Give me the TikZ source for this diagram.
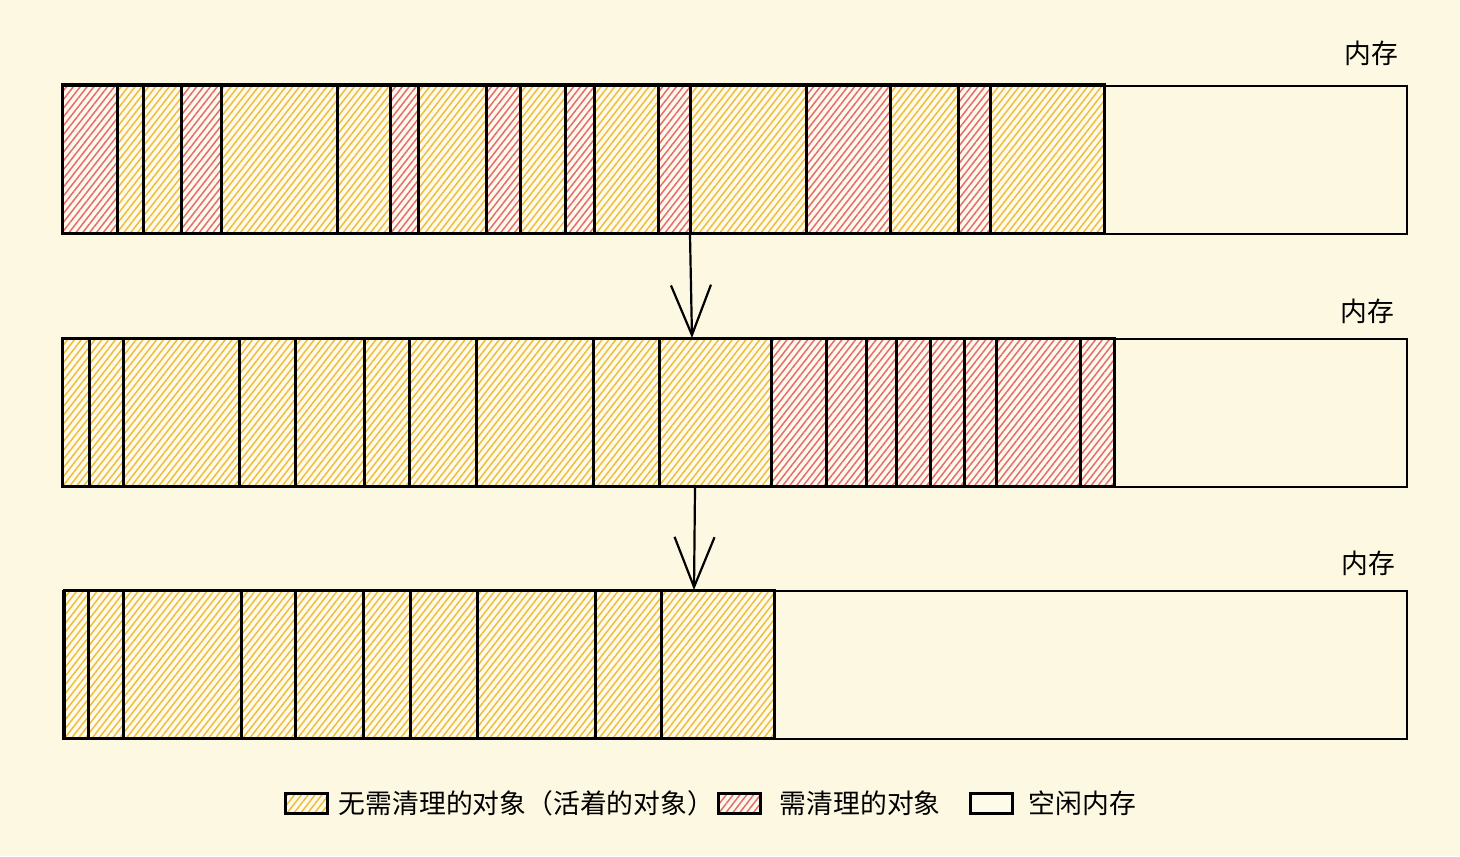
\documentclass[tikz,border=0pt]{standalone}
\usepackage{fontspec}
\setmainfont{Noto Sans CJK SC}
\usetikzlibrary{patterns.meta,arrows.meta,positioning}
\definecolor{fond}{HTML}{FDF8E2}
\definecolor{clair}{HTML}{FFFBEA}
\definecolor{jaune}{HTML}{F0BC40}
\definecolor{rouge}{HTML}{E56A72}

\begin{document}
\begin{tikzpicture}[x=0.5pt,y=-0.5pt]
\tikzset{vif/.style={preaction={fill=clair}, pattern={Lines[angle=52,distance=2.7pt,line width=0.75pt]}, pattern color=jaune},
  mort/.style={preaction={fill=clair}, pattern={Lines[angle=52,distance=2.7pt,line width=0.75pt]}, pattern color=rouge},
  bloc/.style={draw, line width=1.5pt},
  barre/.style={draw, line width=1.1pt, anchor=north west, inner sep=0pt, minimum width=672pt, minimum height=74pt},
  fleche/.style={-{Straight Barb[length=25pt,width=20pt]}, line width=1.1pt},
  etiq/.style={font=\fontsize{13.4pt}{16pt}\selectfont}}
\fill[fond] (0,0) rectangle (1460,856);
\useasboundingbox (0,0) rectangle (1460,856);
\foreach \a/\b/\c in {62/117/mort, 117/143/vif, 143/181/vif, 181/221/mort, 221/337/vif, 337/390/vif,
  390/418/mort, 418/486/vif, 486/520/mort, 520/565/vif, 565/594/mort, 594/658/vif, 658/690/mort,
  690/806/vif, 806/890/mort, 890/958/vif, 958/990/mort, 990/1104/vif}
  \draw[bloc,\c] (\a,85) rectangle (\b,233);
\foreach \a/\b/\c in {62/89/vif, 89/123/vif, 123/239/vif, 239/295/vif, 295/364/vif, 364/409/vif,
  409/476/vif, 476/593/vif, 593/659/vif, 659/771/vif, 771/826/mort, 826/866/mort, 866/896/mort,
  896/930/mort, 930/964/mort, 964/996/mort, 996/1080/mort, 1080/1114/mort}
  \draw[bloc,\c] (\a,338) rectangle (\b,486);
\foreach \a/\b in {64/88, 88/123, 123/241, 241/295, 295/363, 363/410, 410/477, 477/595, 595/661, 661/774}
  \draw[bloc,vif] (\a,590) rectangle (\b,738);
\node[barre] (mem1) at (62,85) {};
\node[barre] (mem2) at (62,338) {};
\node[barre] (mem3) at (62,590) {};
\node[etiq] (nom1) at (1371,53) {内存};
\node[etiq] (nom2) at (1367,311) {内存};
\node[etiq] (nom3) at (1368,563) {内存};
\draw[fleche] (mem1.south -| 690,0) -- (mem2.north -| 692,0);
\draw[fleche] (mem2.south -| 695,0) -- (mem3.north -| 694,0);
\node[bloc, vif, inner sep=0pt, minimum width=21pt, minimum height=10pt] (cle1) at (306,803) {};
\node[etiq, right=1.7pt of cle1] (leg1) {无需清理的对象（活着的对象）};
\node[bloc, mort, inner sep=0pt, minimum width=21pt, minimum height=10pt] (cle2) at (739,803) {};
\node[etiq, right=5.7pt of cle2] (leg2) {需清理的对象};
\node[bloc, fill=clair, inner sep=0pt, minimum width=21pt, minimum height=10pt] (cle3) at (991,803) {};
\node[etiq, right=4.2pt of cle3] (leg3) {空闲内存};
\end{tikzpicture}
\end{document}
